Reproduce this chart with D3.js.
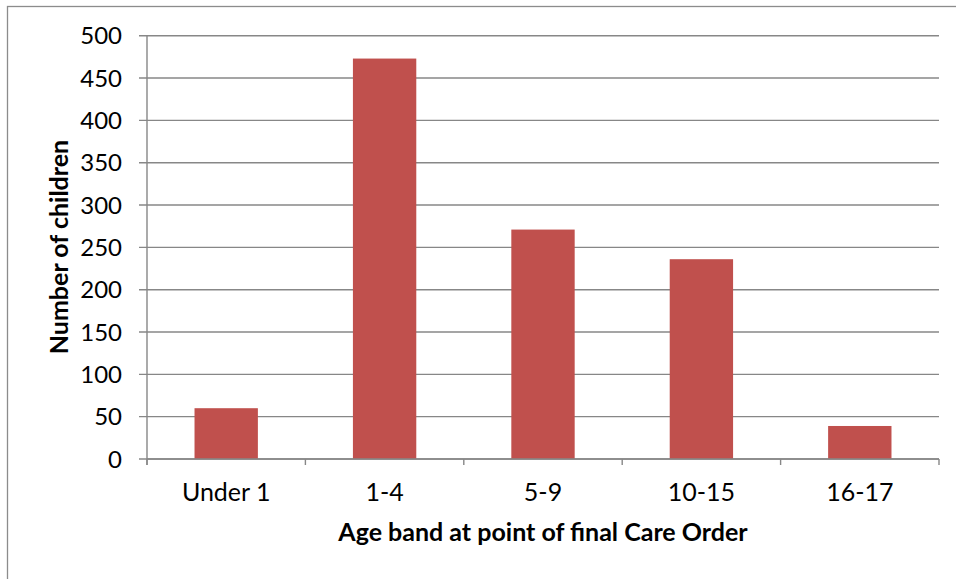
<!DOCTYPE html>
<html><head><meta charset="utf-8">
<script src="https://cdn.jsdelivr.net/npm/d3@7"></script>
<style>body{margin:0;background:#fff;}svg{display:block;font-family:Lato,"Open Sans",sans-serif;}</style>
</head><body><svg id="c" width="956" height="579"></svg>
<script>
const categories = ["Under 1", "1-4", "5-9", "10-15", "16-17"];
const values = [60, 473, 271, 236, 39];
const yTicks = [0, 50, 100, 150, 200, 250, 300, 350, 400, 450, 500];
const xTitle = "Age band at point of final Care Order";
const yTitle = "Number of children";

(function () {
const svg = d3.select("#c");
const pLeft = 147, pRight = 939, pTop = 35.7, pBottom = 459;

svg.append("rect").attr("x", 7.5).attr("y", 6.5).attr("width", 1000).attr("height", 1000)
  .attr("fill", "none").attr("stroke", "#8c8c8c").attr("stroke-width", 1.3);

const x = d3.scaleBand().domain(categories).range([pLeft, pRight]).paddingInner(0.6).paddingOuter(0.3);
const y = d3.scaleLinear().domain([0, 500]).range([pBottom, pTop]);

svg.append("g").selectAll("line").data(yTicks).join("line")
  .attr("x1", pLeft - 8).attr("x2", pRight)
  .attr("y1", d => y(d)).attr("y2", d => y(d))
  .attr("stroke", "#878787").attr("stroke-width", 1.4);

svg.append("line").attr("x1", pLeft).attr("x2", pLeft).attr("y1", pTop).attr("y2", pBottom + 6)
  .attr("stroke", "#878787").attr("stroke-width", 1.4);

svg.append("g").selectAll("rect").data(values).join("rect")
  .attr("x", (d, i) => x(categories[i]))
  .attr("width", x.bandwidth())
  .attr("y", d => y(d))
  .attr("height", d => y(0) - y(d))
  .attr("fill", "#C0504D");

svg.append("line").attr("x1", pLeft).attr("x2", pRight).attr("y1", pBottom).attr("y2", pBottom)
  .attr("stroke", "#878787").attr("stroke-width", 1.4);
const tickPos = d3.range(categories.length + 1).map(i => pLeft + i * x.step());
svg.append("g").selectAll("line").data(tickPos).join("line")
  .attr("x1", d => d).attr("x2", d => d).attr("y1", pBottom).attr("y2", pBottom + 6)
  .attr("stroke", "#878787").attr("stroke-width", 1.4);

svg.append("g").selectAll("text").data(yTicks).join("text")
  .attr("x", 122).attr("y", d => y(d)).attr("dy", "0.36em")
  .attr("text-anchor", "end").attr("font-size", 24).attr("fill", "#000")
  .text(d => d);

svg.append("g").selectAll("text").data(categories).join("text")
  .attr("x", d => x(d) + x.bandwidth() / 2).attr("y", 501)
  .attr("text-anchor", "middle").attr("font-size", 25).attr("fill", "#000")
  .text(d => d);

svg.append("text").attr("x", 543).attr("y", 541).attr("text-anchor", "middle")
  .attr("font-size", 25).attr("font-weight", "bold").text(xTitle);
svg.append("text").attr("transform", "translate(68,247) rotate(-90)").attr("text-anchor", "middle")
  .attr("font-size", 25).attr("font-weight", "bold").text(yTitle);
})();
</script></body></html>
